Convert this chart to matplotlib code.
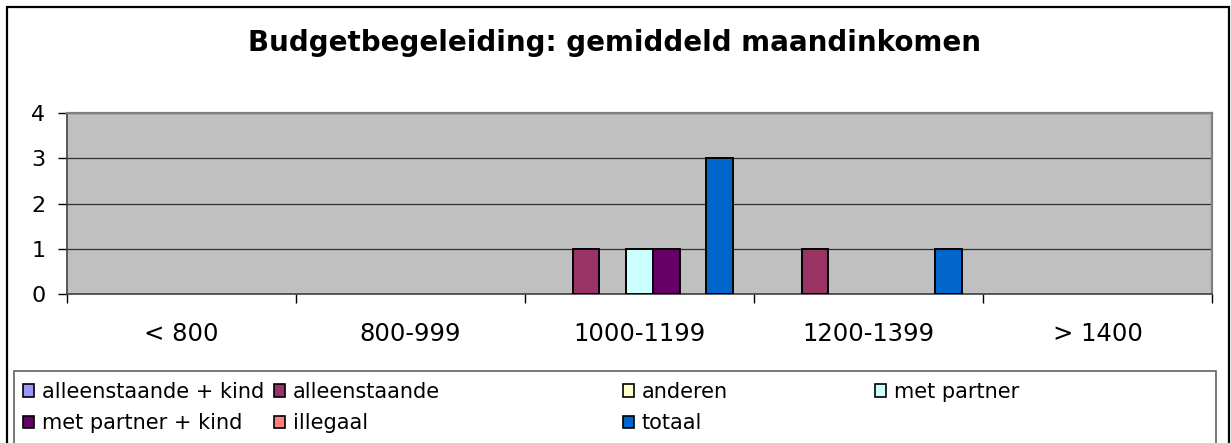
import numpy as np
import matplotlib
matplotlib.use("Agg")
import matplotlib.pyplot as plt
from matplotlib.patches import Rectangle

# Data
categories = ["< 800", "800-999", "1000-1199", "1200-1399", "> 1400"]
series_names = ["alleenstaande + kind", "alleenstaande", "anderen", "met partner",
                "met partner + kind", "illegaal", "totaal"]
alleenstaande_kind = [0, 0, 0, 0, 0]
alleenstaande = [0, 0, 1, 1, 0]
anderen = [0, 0, 0, 0, 0]
met_partner = [0, 0, 1, 0, 0]
met_partner_kind = [0, 0, 1, 0, 0]
illegaal = [0, 0, 0, 0, 0]
totaal = [0, 0, 3, 1, 0]
series_values = [alleenstaande_kind, alleenstaande, anderen, met_partner,
                 met_partner_kind, illegaal, totaal]
colors = ["#9999FF", "#993366", "#FFFFCC", "#CCFFFF", "#660066", "#FF8080", "#0066CC"]

W, H = 1231, 443
fig = plt.figure(figsize=(W / 100, H / 100), dpi=100)
fig.patch.set_facecolor("white")

# outer chart border
fig.patches.append(Rectangle((7 / W, -0.02), 1222 / W, (H - 7) / H + 0.02,
                             transform=fig.transFigure, fill=False,
                             edgecolor="black", linewidth=1.6, zorder=0))

ax = fig.add_axes([67 / W, (H - 294) / H, (1212 - 67) / W, (294 - 113) / H])
ax.set_facecolor("#C0C0C0")

x = np.arange(len(categories))
bw = 0.1166
handles = []
for i, (name, vals, col) in enumerate(zip(series_names, series_values, colors)):
    bars = ax.bar(x + (i - 3) * bw, vals, width=bw, color=col, edgecolor="black",
                  linewidth=1.4, label=name, zorder=3)
    for b, v in zip(bars, vals):
        if v == 0:
            b.set_visible(False)
    handles.append(Rectangle((0, 0), 1, 1, facecolor=col, edgecolor="black", linewidth=1.2))

ax.set_xlim(-0.5, 4.5)
ax.set_ylim(0, 4)
ax.set_yticks([0, 1, 2, 3, 4])
ax.yaxis.grid(True, color="#303030", linewidth=0.9, zorder=1)
ax.set_axisbelow(True)

ax.set_xticks(x)
ax.set_xticklabels(categories)
ax.set_xticks(np.arange(-0.5, 5, 1), minor=True)
ax.tick_params(axis="x", which="major", length=0, pad=20, labelsize=17.5)
ax.tick_params(axis="x", which="minor", length=6.5, width=1, direction="out", color="black")
ax.tick_params(axis="y", length=6.5, width=1, pad=9, labelsize=16, color="black")

for side in ["top", "right"]:
    ax.spines[side].set_color("#808080")
    ax.spines[side].set_linewidth(1.6)
for side in ["left", "bottom"]:
    ax.spines[side].set_color("#404040")
    ax.spines[side].set_linewidth(1.2)

fig.text(615 / W, (H - 51) / H, "Budgetbegeleiding: gemiddeld maandinkomen",
         ha="center", va="baseline", fontsize=20, fontweight="bold")

# legend frame
fig.patches.append(Rectangle((14 / W, -0.02), (1216 - 14) / W, (H - 371) / H + 0.02,
                             transform=fig.transFigure, fill=False,
                             edgecolor="#606060", linewidth=1.2))

# legend laid out row by row, one column at a time
col_x = [23, 274, 623, 875]
for c, cx in enumerate(col_x):
    idx = [k for k in (c, c + 4) if k < len(series_names)]
    fig.legend([handles[k] for k in idx], [series_names[k] for k in idx],
               loc="upper left", bbox_to_anchor=(cx / W, (H - 382) / H),
               frameon=False, fontsize=15, handlelength=0.55, handleheight=0.55,
               handletextpad=0.35, labelspacing=0.55, borderpad=0, borderaxespad=0)

fig.savefig("out.png", dpi=100)
